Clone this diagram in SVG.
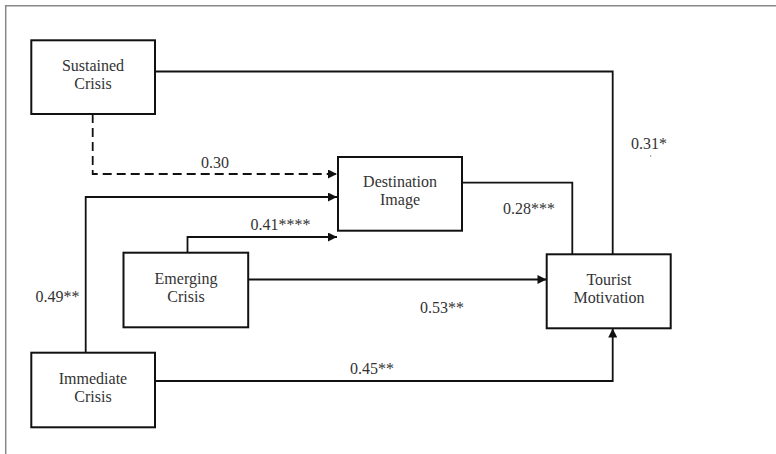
<svg xmlns="http://www.w3.org/2000/svg" width="776" height="454" viewBox="0 0 776 454">
<style>
  .box { fill: #ffffff; stroke: #111111; stroke-width: 2; }
  .lbl { font-family: 'Liberation Serif', 'DejaVu Serif', serif; font-size: 16px; fill: #333333; text-anchor: middle; }
  .edge { fill: none; stroke: #111111; stroke-width: 1.8; }
  .frame { fill: none; stroke: #888888; stroke-width: 1.5; }
</style>
<defs>
  <marker id="arr" viewBox="0 0 10 10" refX="10" refY="5" markerWidth="10" markerHeight="9" markerUnits="userSpaceOnUse" orient="auto">
    <path d="M0,0 L10,5 L0,10 Z" fill="#111111"/>
  </marker>
</defs>
<rect width="776" height="454" fill="#ffffff"/>
<path class="frame" d="M5.7,454 L5.7,5.7 L776,5.7"/>

<g id="connectors" font-family="Liberation Serif, DejaVu Serif, serif">
  <path class="edge" d="M155,71.5 L612.7,71.5 L612.7,254"/>
  <path class="edge" d="M92.7,114 L92.7,174 L337,174" stroke-dasharray="9,5" marker-end="url(#arr)"/>
  <path class="edge" d="M85.7,353 L85.7,197 L337,197" marker-end="url(#arr)"/>
  <path class="edge" d="M187.5,253 L187.5,237 L337,237" marker-end="url(#arr)"/>
  <path class="edge" d="M462,182.7 L572.3,182.7 L572.3,254"/>
  <path class="edge" d="M248,279.5 L546.5,279.5" marker-end="url(#arr)"/>
  <path class="edge" d="M155,381 L612.7,381 L612.7,328.5" marker-end="url(#arr)"/>
  <text class="lbl" x="215" y="167.5">0.30</text>
  <text class="lbl" x="280.5" y="230">0.41****</text>
  <text class="lbl" x="529" y="214">0.28***</text>
  <text class="lbl" x="649" y="148.5">0.31*</text>
  <circle cx="650.7" cy="156" r="0.7" fill="#777777"/>
  <text class="lbl" x="442" y="312.5">0.53**</text>
  <text class="lbl" x="57.5" y="302">0.49**</text>
  <text class="lbl" x="372" y="374">0.45**</text>
</g>

<g id="sustained">
  <rect class="box" x="31.3" y="40.3" width="123.7" height="73.7"/>
  <text class="lbl" x="93" y="71">Sustained</text>
  <text class="lbl" x="93" y="89">Crisis</text>
</g>
<g id="destination">
  <rect class="box" x="338" y="157" width="124" height="73.7"/>
  <text class="lbl" x="400" y="187">Destination</text>
  <text class="lbl" x="400" y="205">Image</text>
</g>
<g id="emerging">
  <rect class="box" x="123.5" y="252.7" width="124.7" height="74.6"/>
  <text class="lbl" x="186" y="284">Emerging</text>
  <text class="lbl" x="186" y="302">Crisis</text>
</g>
<g id="tourist">
  <rect class="box" x="546.7" y="254.3" width="124" height="74"/>
  <text class="lbl" x="609" y="285">Tourist</text>
  <text class="lbl" x="609" y="303">Motivation</text>
</g>
<g id="immediate">
  <rect class="box" x="31.3" y="352.7" width="123.7" height="74.6"/>
  <text class="lbl" x="93" y="384">Immediate</text>
  <text class="lbl" x="93" y="402">Crisis</text>
</g>
</svg>
